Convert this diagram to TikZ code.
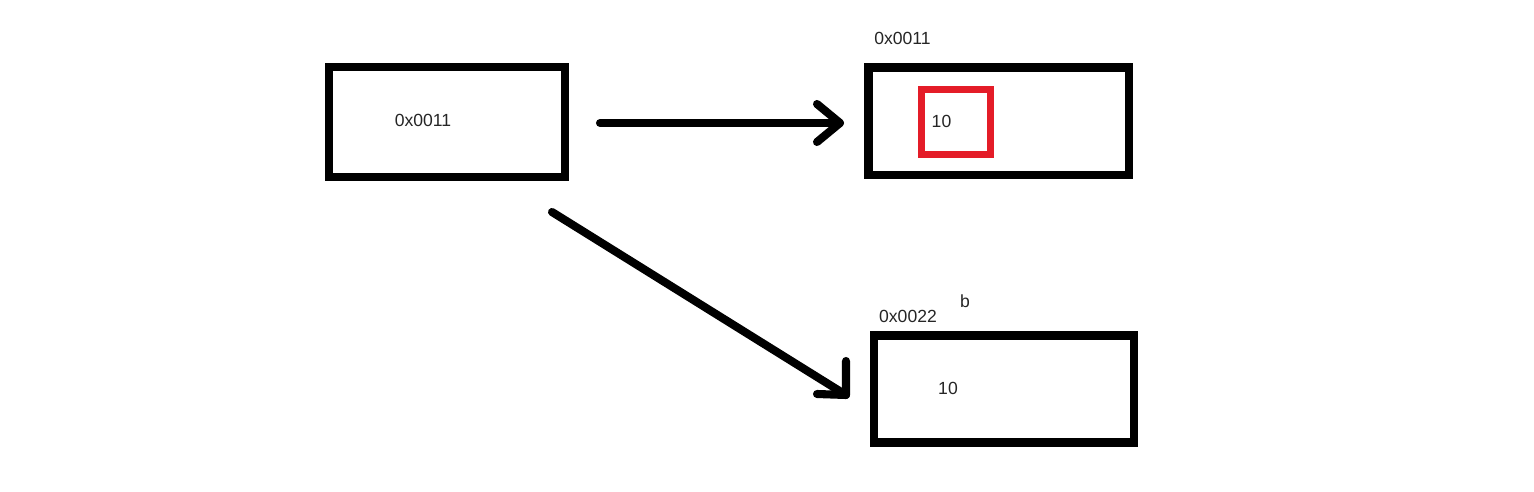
\documentclass[tikz,border=0pt]{standalone}
\usepackage{fontspec}
\setmainfont{Liberation Sans}
\definecolor{boxred}{RGB}{228,28,40}
\begin{document}
\begin{tikzpicture}[x=0.02cm,y=-0.02cm,
  membox/.style={draw=black,line width=4.6pt,minimum width=#1,inner sep=0pt,fill=white},
  redbox/.style={draw=boxred,line width=4pt,minimum width=1.39cm,minimum height=1.3cm,inner sep=0pt},
  lbl/.style={font=\fontsize{10}{12}\selectfont,inner sep=0pt,text=black!85},
  conn/.style={line width=4.6pt,line cap=round,line join=round}]
\useasboundingbox (0,0) rectangle (1534,492);
\fill[white] (0,0) rectangle (1534,492);
% boxes
\node[membox=4.72cm,minimum height=2.2cm] (a) at (447,122) {};
\node[membox=5.21cm,minimum height=2.15cm] (b) at (998.75,121.25) {};
\node[membox=5.2cm,minimum height=2.14cm] (c) at (1004,389) {};
\node[redbox] (r) at (955.75,122) {};
% texts
\node[lbl] (ta) at (423,120) {0x0011};
\node[lbl] (tb) at (902.5,38) {0x0011};
\node[lbl] (tr) at (941.5,121) {10};
\node[lbl] (tc) at (908,316) {0x0022};
\node[lbl] (tbb) at (965,301) {b};
\node[lbl] (tc10) at (948,388) {10};
% connector 1
\coordinate (s1) at (600,123);
\coordinate (e1) at (840,123);
\coordinate (h1a) at (817,104);
\coordinate (h1b) at (817,142);
\draw[conn] (s1) -- (e1);
\draw[conn] (h1a) -- (e1) -- (h1b);
% connector 2
\coordinate (s2) at (552,212);
\coordinate (e2) at (846,395);
\coordinate (h2a) at (846,361);
\coordinate (h2b) at (817,394);
\draw[conn] (s2) -- (e2);
\draw[conn] (h2a) -- (e2) -- (h2b);
\end{tikzpicture}
\end{document}
